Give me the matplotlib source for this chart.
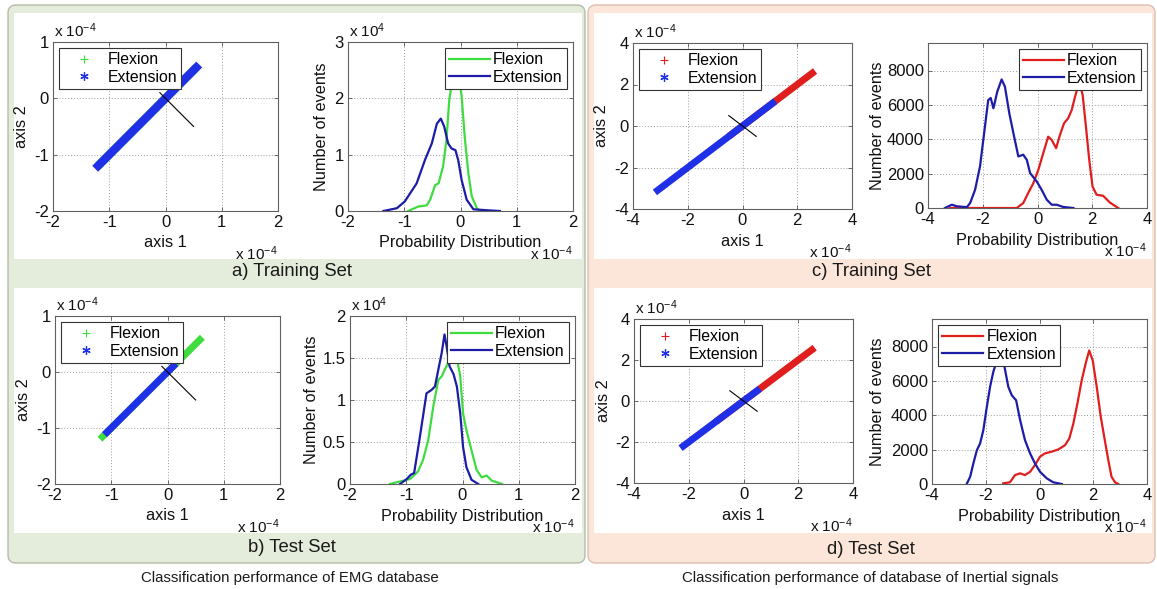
import matplotlib
matplotlib.use("Agg")
import matplotlib.pyplot as plt
from matplotlib.lines import Line2D
from matplotlib.patches import FancyBboxPatch, Rectangle
from matplotlib.ticker import FormatStrFormatter
from matplotlib.transforms import offset_copy

plt.rcParams["font.family"] = ["Liberation Sans", "DejaVu Sans"]
plt.rcParams["mathtext.fontset"] = "custom"
plt.rcParams["mathtext.rm"] = "Liberation Sans"
plt.rcParams["mathtext.default"] = "regular"
plt.rcParams["axes.unicode_minus"] = False

# ---- scatter segments along the diagonal (units of 1e-4)
emg_train_flex_x = [-1.2, 0.55]
emg_train_flex_y = [-1.2, 0.55]
emg_train_ext_x = [-1.25, 0.6]
emg_train_ext_y = [-1.25, 0.6]
emg_test_flex_x = [-1.2, 0.62]
emg_test_flex_y = [-1.2, 0.62]
emg_test_ext_x = [-1.12, 0.15]
emg_test_ext_y = [-1.12, 0.15]
emg_split_x = [-0.1, 0.5]
emg_split_y = [0.1, -0.5]

ine_train_flex_x = [-0.5, 2.65]
ine_train_flex_y = [-0.5, 2.65]
ine_train_ext_x = [-3.2, 1.2]
ine_train_ext_y = [-3.2, 1.2]
ine_test_flex_x = [-1.0, 2.6]
ine_test_flex_y = [-1.0, 2.6]
ine_test_ext_x = [-2.3, 0.6]
ine_test_ext_y = [-2.3, 0.6]
ine_split_x = [-0.5, 0.5]
ine_split_y = [0.5, -0.5]

# ---- distributions (x in 1e-4)
# EMG training, counts in 1e4
a_flex_x = [-0.93, -0.75, -0.6, -0.54, -0.45, -0.39, -0.31, -0.25, -0.20, -0.15, -0.08, -0.02, 0.02, 0.08, 0.14, 0.20, 0.29, 0.35]
a_flex_y = [0.0, 0.08, 0.1, 0.20, 0.46, 0.49, 0.79, 1.26, 1.97, 2.3, 2.6, 2.4, 2.03, 1.26, 0.67, 0.26, 0.05, 0.0]
a_ext_x = [-1.37, -1.13, -0.99, -0.78, -0.63, -0.51, -0.42, -0.35, -0.29, -0.22, -0.16, -0.09, -0.04, 0.02, 0.11, 0.23, 0.52, 0.70]
a_ext_y = [0.0, 0.05, 0.17, 0.49, 0.91, 1.2, 1.55, 1.64, 1.5, 1.2, 1.11, 1.08, 0.9, 0.55, 0.2, 0.03, 0.01, 0.0]

# EMG test, counts in 1e4
b_flex_x = [-1.29, -1.05, -0.93, -0.79, -0.70, -0.61, -0.52, -0.43, -0.37, -0.31, -0.25, -0.18, -0.10, -0.04, 0.01, 0.07, 0.16, 0.25, 0.34, 0.43, 0.52, 0.70]
b_flex_y = [0.0, 0.04, 0.06, 0.15, 0.29, 0.52, 0.92, 1.24, 1.28, 1.37, 1.45, 1.55, 1.5, 1.28, 0.84, 0.64, 0.4, 0.17, 0.08, 0.1, 0.04, 0.0]
b_ext_x = [-1.11, -0.99, -0.92, -0.86, -0.76, -0.64, -0.55, -0.49, -0.43, -0.37, -0.32, -0.28, -0.23, -0.16, -0.10, -0.04, 0.01, 0.07, 0.16, 0.28]
b_ext_y = [0.0, 0.06, 0.11, 0.13, 0.55, 1.08, 1.12, 1.16, 1.36, 1.56, 1.78, 1.63, 1.4, 1.31, 1.16, 0.84, 0.44, 0.2, 0.05, 0.0]

# inertial training, counts
c_flex_x = [-3.2, -0.76, -0.52, -0.34, -0.15, 0.03, 0.21, 0.39, 0.52, 0.68, 0.82, 0.97, 1.12, 1.25, 1.37, 1.45, 1.55, 1.65, 1.77, 1.89, 2.01, 2.16, 2.40, 2.65, 2.89, 2.95]
c_flex_y = [0, 0, 290, 870, 1450, 2220, 3190, 4150, 3960, 3480, 4250, 4930, 5220, 5700, 6470, 6900, 7200, 6570, 4730, 2800, 1250, 770, 710, 310, 60, 0]
c_ext_x = [-3.38, -3.13, -2.95, -2.58, -2.46, -2.28, -2.10, -1.95, -1.80, -1.71, -1.61, -1.47, -1.31, -1.19, -1.03, -0.88, -0.70, -0.52, -0.39, -0.27, -0.03, 0.15, 0.34, 0.52, 0.70, 0.94, 1.31]
c_ext_y = [0, 190, 100, 50, 290, 1060, 2420, 4350, 6280, 6400, 5800, 6770, 7480, 7060, 5510, 4350, 3000, 3100, 2800, 2030, 1550, 1060, 480, 190, 190, 60, 0]

# inertial test, counts
d_flex_x = [-1.35, -1.1, -0.91, -0.72, -0.54, -0.35, -0.17, 0.02, 0.2, 0.45, 0.7, 0.95, 1.11, 1.26, 1.41, 1.57, 1.73, 1.85, 1.98, 2.13, 2.28, 2.43, 2.56, 2.68, 2.81, 2.93]
d_flex_y = [40, 100, 520, 620, 520, 710, 1100, 1590, 1780, 1880, 2010, 2260, 2650, 3520, 4680, 6030, 7090, 7770, 7190, 5650, 3900, 2550, 1390, 420, 100, 0]
d_ext_x = [-2.71, -2.58, -2.46, -2.33, -2.21, -2.09, -1.96, -1.84, -1.72, -1.6, -1.45, -1.3, -1.16, -1.03, -0.87, -0.72, -0.54, -0.35, -0.17, 0.02, 0.27, 0.51, 0.83]
d_ext_y = [0, 420, 1200, 1970, 2360, 3130, 4490, 5650, 6520, 7100, 7300, 6800, 5650, 5160, 4870, 3710, 2550, 1780, 1200, 710, 330, 100, 0]

emg_ticks_x = [-2, -1, 0, 1, 2]
emg_ticks_y = [-2, -1, 0, 1]
ine_ticks = [-4, -2, 0, 2, 4]
emg_train_counts = [0, 1, 2, 3]
emg_test_counts = [0, 0.5, 1, 1.5, 2]
ine_counts = [0, 2000, 4000, 6000, 8000]

labels = ["Flexion", "Extension"]
captions = ["a) Training Set", "b) Test Set", "c) Training Set", "d) Test Set"]
bottom_captions = ["Classification performance of EMG database",
                   "Classification performance of database of Inertial signals"]

GREEN = "#3fdc3f"
BLUE_S = "#1f30e6"
BLUE_D = "#1c1ca8"
RED = "#e01e1e"
GREEN_BG = "#e4ecdb"
PINK_BG = "#fce6da"

W, H = 1157, 589
fig = plt.figure(figsize=(W / 100, H / 100), dpi=100)


def px_rect(x0, y0, x1, y1):
    return x0 / 100, (H - y1) / 100, (x1 - x0) / 100, (y1 - y0) / 100


# panel backgrounds
for (x0, x1), fc, ec in [((8, 585), GREEN_BG, "#b3bca8"), ((588, 1155), PINK_BG, "#d8c0b2")]:
    x, y, w, h = px_rect(x0, 5, x1, 563)
    fig.add_artist(FancyBboxPatch((x, y), w, h, boxstyle="round,pad=0,rounding_size=0.08",
                                  transform=fig.dpi_scale_trans, fc=fc, ec=ec, lw=1, zorder=-2))
    for (y0, y1) in [(13, 259), (288, 533)]:
        x, y, w, h = px_rect(x0 + 6, y0, x1 - 3, y1)
        fig.add_artist(Rectangle((x, y), w, h, transform=fig.dpi_scale_trans,
                                 fc="white", ec="none", zorder=-1))


def add_ax(l, r, t, b):
    return fig.add_axes([l / W, 1 - b / H, (r - l) / W, (b - t) / H])


def style(ax, ticks_x, ticks_y, xlabel, ylabel, ylab_off, xexp, yexp):
    ax.set_xlim(ticks_x[0], ticks_x[-1])
    ax.set_xticks(ticks_x)
    ax.set_yticks(ticks_y)
    ax.xaxis.set_major_formatter(FormatStrFormatter("%g"))
    ax.yaxis.set_major_formatter(FormatStrFormatter("%g"))
    ax.grid(True, ls=(0, (1, 2)), color="#9c9c9c", lw=0.7)
    ax.set_axisbelow(True)
    ax.tick_params(direction="in", length=3, width=0.6, top=True, right=True,
                   labelsize=12, pad=3, color="#555555", labelcolor="#111111")
    for s in ax.spines.values():
        s.set_color("#606060")
        s.set_linewidth(0.8)
    ax.set_xlabel(xlabel, fontsize=11.7, va="center", color="#111111")
    ax.xaxis.set_label_coords(0.5, 0, transform=offset_copy(ax.transAxes, fig, x=0, y=-32, units="dots"))
    ax.set_ylabel(ylabel, fontsize=11.7, va="center", color="#111111")
    ax.yaxis.set_label_coords(0, 0.5, transform=offset_copy(ax.transAxes, fig, x=-ylab_off, y=0, units="dots"))
    ax.text(1, 0, xexp, fontsize=11, ha="right", va="baseline", color="#111111",
            transform=offset_copy(ax.transAxes, fig, x=0, y=-49, units="dots"))
    ax.text(0, 1, yexp, fontsize=11, ha="left", va="baseline", color="#111111",
            transform=offset_copy(ax.transAxes, fig, x=1, y=5, units="dots"))


def make_legend(ax, handles, loc):
    leg = ax.legend(handles, labels, loc=loc, fontsize=11.4, fancybox=False,
                    framealpha=1, edgecolor="#333333", borderpad=0.25, labelspacing=0.15,
                    handlelength=2.6, handletextpad=0.2, borderaxespad=0.4)
    leg.get_frame().set_linewidth(0.8)


def scatter_panel(ax, fx, fy, ex, ey, sx, sy, fcol, lw, ticks_x, ticks_y):
    ax.plot(fx, fy, color=fcol, lw=lw, solid_capstyle="butt")
    ax.plot(ex, ey, color=BLUE_S, lw=lw, solid_capstyle="butt")
    ax.plot(sx, sy, color="black", lw=0.8)
    ax.set_ylim(ticks_y[0], ticks_y[-1])
    handles = [Line2D([], [], ls="none", marker="+", ms=6, mew=0.8, color=fcol),
               Line2D([], [], ls="none", marker=(6, 2, 0), ms=6, mew=0.9, color=BLUE_S)]
    make_legend(ax, handles, "upper left")
    style(ax, ticks_x, ticks_y, "axis 1", "axis 2", 31, "x 10$^{-4}$", "x 10$^{-4}$")


def dist_panel(ax, fx, fy, ex, ey, fcol, ticks, yticks, ytop, loc, yexp, ylab_off):
    l1, = ax.plot(fx, fy, color=fcol, lw=1.6)
    l2, = ax.plot(ex, ey, color=BLUE_D, lw=1.6)
    ax.set_ylim(0, ytop)
    make_legend(ax, [l1, l2], loc)
    style(ax, ticks, yticks, "Probability Distribution", "Number of events", ylab_off,
          "x 10$^{-4}$", yexp)


scatter_panel(add_ax(53, 278, 42, 211), emg_train_flex_x, emg_train_flex_y, emg_train_ext_x,
              emg_train_ext_y, emg_split_x, emg_split_y, GREEN, 6, emg_ticks_x, emg_ticks_y)
dist_panel(add_ax(348, 573, 42, 211), a_flex_x, a_flex_y, a_ext_x, a_ext_y, GREEN, emg_ticks_x,
           emg_train_counts, 3, "upper right", "x 10$^{4}$", 26)
scatter_panel(add_ax(55, 280, 316, 484), emg_test_flex_x, emg_test_flex_y, emg_test_ext_x,
              emg_test_ext_y, emg_split_x, emg_split_y, GREEN, 5, emg_ticks_x, emg_ticks_y)
dist_panel(add_ax(350, 575, 316, 484), b_flex_x, b_flex_y, b_ext_x, b_ext_y, GREEN, emg_ticks_x,
           emg_test_counts, 2, "upper right", "x 10$^{4}$", 38)

scatter_panel(add_ax(633, 852, 43, 209), ine_train_flex_x, ine_train_flex_y, ine_train_ext_x,
              ine_train_ext_y, ine_split_x, ine_split_y, RED, 5, ine_ticks, ine_ticks)
dist_panel(add_ax(928, 1147, 43, 208), c_flex_x, c_flex_y, c_ext_x, c_ext_y, RED, ine_ticks,
           ine_counts, 9600, "upper right", "", 51)
scatter_panel(add_ax(634, 853, 319, 483), ine_test_flex_x, ine_test_flex_y, ine_test_ext_x,
              ine_test_ext_y, ine_split_x, ine_split_y, RED, 5, ine_ticks, ine_ticks)
dist_panel(add_ax(932, 1147, 319, 484), d_flex_x, d_flex_y, d_ext_x, d_ext_y, RED, ine_ticks,
           ine_counts, 9600, "upper left", "", 55)

# captions
for text, (x, y) in zip(captions, [(292, 272), (292, 548), (871, 272), (871, 549)]):
    fig.text(x / W, 1 - y / H, text, ha="center", va="center", fontsize=13.3, color="#1a1a1a")
for text, x in zip(bottom_captions, [290, 870]):
    fig.text(x / W, 1 - 578 / H, text, ha="center", va="center", fontsize=10.8, color="#1a1a1a")

fig.savefig("out.png", dpi=100)
